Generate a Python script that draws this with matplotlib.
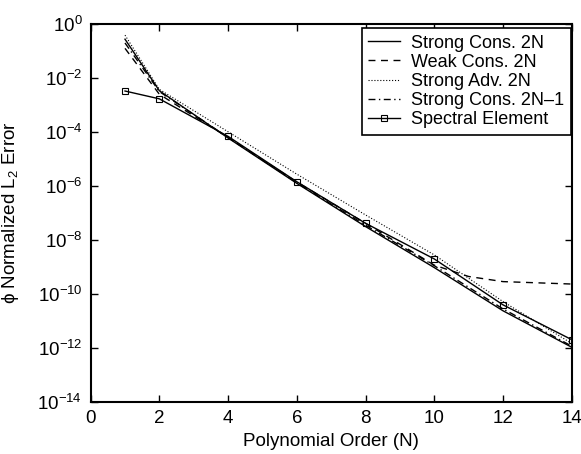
#!/usr/bin/env python3
"""Normalized L2 error vs polynomial order, log scale."""

import math

import matplotlib
matplotlib.use("Agg")
import matplotlib.pyplot as plt
from matplotlib.ticker import FixedLocator, FuncFormatter, NullLocator

# polynomial orders
N = [1, 2, 4, 6, 8, 10, 12, 14]
N_weak = [1, 2, 4, 6, 8, 10, 11, 12, 14]

# log10 of error
strong_cons_2n = [-0.56, -2.47, -4.22, -5.90, -7.50, -9.02, -10.62, -11.97]
weak_cons_2n = [-0.90, -2.60, -4.20, -5.85, -7.38, -8.93, -9.35, -9.54, -9.63]
strong_adv_2n = [-0.41, -2.42, -3.99, -5.56, -7.07, -8.55, -10.28, -11.83]
strong_cons_2n1 = [-0.70, -2.50, -4.20, -5.88, -7.45, -8.95, -10.55, -11.93]
spectral_elem = [-2.48, -2.77, -4.16, -5.84, -7.38, -8.70, -10.40, -11.69]

labels = ["Strong Cons. 2N", "Weak Cons. 2N", "Strong Adv. 2N",
          "Strong Cons. 2N\u20131", "Spectral Element"]
y_ticks = [0, -2, -4, -6, -8, -10, -12, -14]
x_ticks = [0, 2, 4, 6, 8, 10, 12, 14]

plt.rcParams["font.family"] = ["Liberation Sans", "DejaVu Sans"]
plt.rcParams["mathtext.fontset"] = "custom"
plt.rcParams["mathtext.rm"] = "Liberation Sans"
plt.rcParams["mathtext.it"] = "Liberation Sans:italic"


def ten(vals):
    return [10.0 ** v for v in vals]


fig = plt.figure(figsize=(5.81, 4.54), dpi=100)
ax = fig.add_axes([0.156, 0.1145, 0.828, 0.8325])

lw = 1.0
ax.plot(N, ten(strong_cons_2n), "k-", lw=lw, label=labels[0])
ax.plot(N_weak, ten(weak_cons_2n), "k--", lw=lw, dashes=(5, 4), label=labels[1])
ax.plot(N, ten(strong_adv_2n), color="k", ls=":", lw=0.8, label=labels[2])
ax.plot(N, ten(strong_cons_2n1), "k-.", lw=lw, dashes=(5, 2.5, 1, 2.5), label=labels[3])
ax.plot(N, ten(spectral_elem), "k-", lw=lw, marker="s", ms=4.5,
        mfc="none", mec="k", mew=0.8, label=labels[4])

ax.set_yscale("log")
ax.set_xlim(0, 14)
ax.set_ylim(1e-14, 1)
ax.xaxis.set_major_locator(FixedLocator(x_ticks))
ax.yaxis.set_major_locator(FixedLocator([10.0 ** t for t in y_ticks]))
ax.yaxis.set_minor_locator(NullLocator())
ax.yaxis.set_major_formatter(FuncFormatter(
    lambda v, p: "$10^{%d}$" % round(math.log10(v))))
ax.tick_params(direction="in", top=True, right=True, length=5,
               width=1.0, labelsize=13.5, pad=6)
for s in ax.spines.values():
    s.set_linewidth(1.5)

ax.set_xlabel("Polynomial Order (N)", fontsize=13.5, labelpad=4)
ax.set_ylabel("\u03d5 Normalized L$_2$ Error", fontsize=13.5, labelpad=12)

leg = ax.legend(loc="upper right", bbox_to_anchor=(0.998, 0.989),
                fontsize=13, frameon=True, fancybox=False,
                edgecolor="k", framealpha=1, handlelength=1.8,
                labelspacing=0.12, borderpad=0.35, handletextpad=0.6,
                borderaxespad=0.0)
leg.get_frame().set_linewidth(1.2)

fig.savefig("out.png", dpi=100)
